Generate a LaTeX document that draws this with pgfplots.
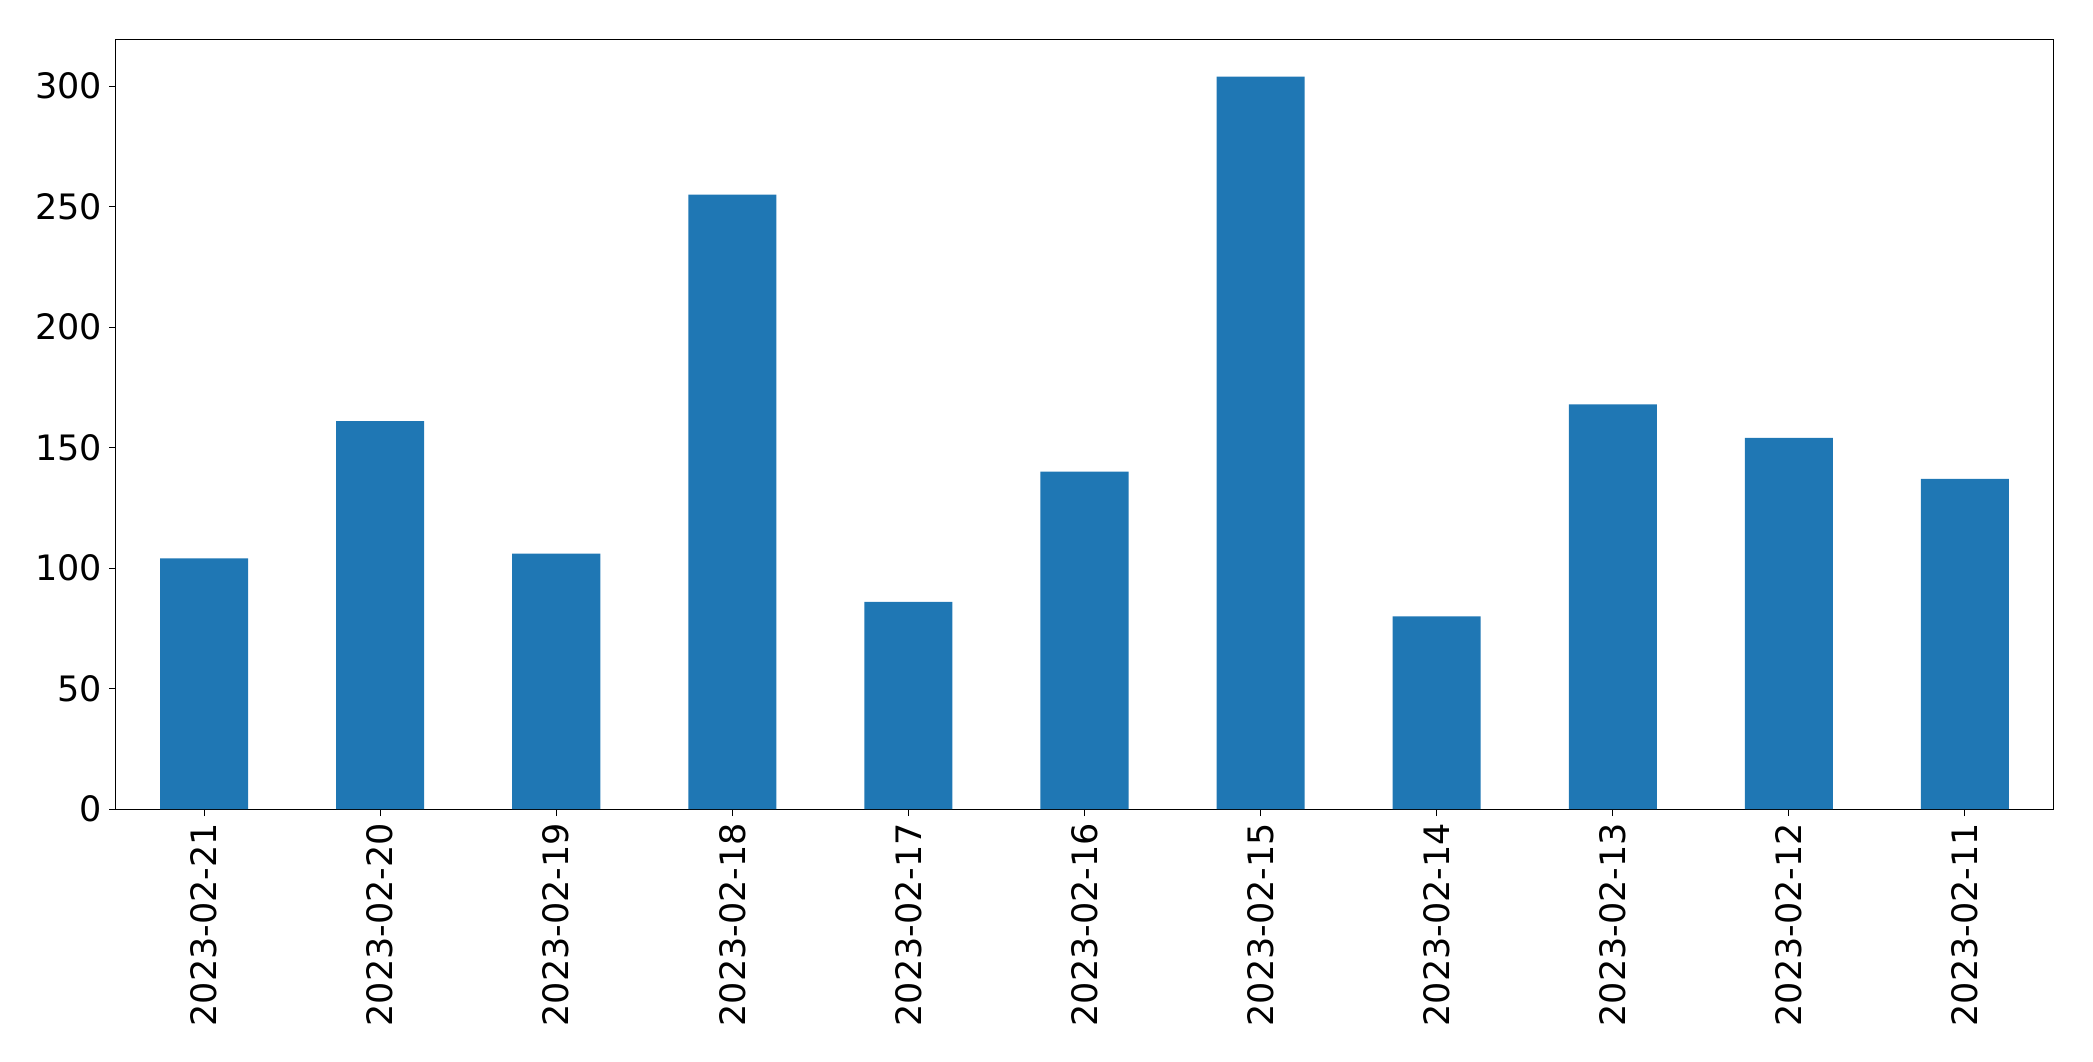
\documentclass[border=0pt]{standalone}
\usepackage{pgfplots}
\pgfplotsset{compat=1.18}
\usepackage{fontspec}
\setmainfont{DejaVu Sans}
\definecolor{mplblue}{HTML}{1F77B4}
\begin{document}
\begin{tikzpicture}
\begin{axis}[
  at={(0pt,0pt)}, anchor=south west,
  scale only axis,
  width=968.5pt, height=384.5pt,
  xmin=-0.5, xmax=10.5,
  ymin=0, ymax=319.2,
  xtick={0,...,10},
  xticklabels={2023-02-21,2023-02-20,2023-02-19,2023-02-18,2023-02-17,2023-02-16,2023-02-15,2023-02-14,2023-02-13,2023-02-12,2023-02-11},
  ytick={0,50,100,150,200,250,300},
  tick align=outside,
  major tick length=3.5pt,
  tick style={black, line width=0.5pt},
  axis line style={line width=0.5pt},
  xtick pos=bottom, ytick pos=left,
  /pgf/number format/assume math mode=true,
  ticklabel style={font=\fontsize{17.5}{21}\selectfont},
  x tick label style={rotate=90, anchor=east},
  ybar, bar width=0.5, bar shift=0pt,
]
\addplot[fill=mplblue, draw=none] coordinates {
(0,104) (1,161) (2,106) (3,255) (4,86) (5,140) (6,304) (7,80) (8,168) (9,154) (10,137)
};
\end{axis}
\path[use as bounding box] (-58pt,-126pt) rectangle (988.5pt,404.5pt);
\end{tikzpicture}
\end{document}
